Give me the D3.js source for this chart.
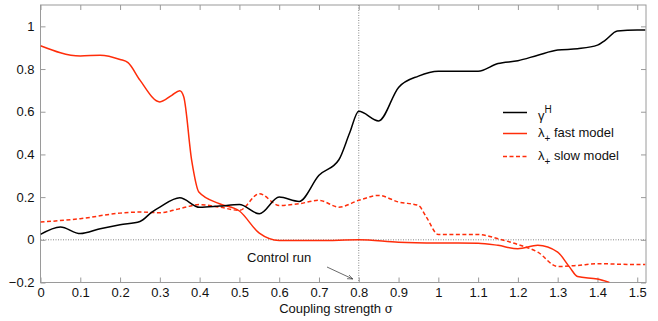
<!DOCTYPE html>
<html>
<head>
<meta charset="utf-8">
<script src="https://cdn.jsdelivr.net/npm/d3@7"></script>
<style>
  body { margin: 0; background: #fff; }
  text { font-family: "Liberation Sans", Arial, sans-serif; fill: #111; }
</style>
</head>
<body>
<svg id="chart" width="658" height="321"></svg>
<script>
// coupling strength values and series
let xGamma = [0, 0.05, 0.1, 0.15, 0.2, 0.25, 0.28, 0.3, 0.35, 0.4, 0.45, 0.5, 0.55, 0.6, 0.65, 0.7, 0.75, 0.777, 0.8, 0.85, 0.9, 0.95, 1.0, 1.05, 1.1, 1.15, 1.2, 1.25, 1.3, 1.35, 1.4, 1.42, 1.45, 1.5, 1.52];
let gammaH = [0.025, 0.06, 0.029, 0.052, 0.071, 0.086, 0.13, 0.153, 0.197, 0.152, 0.158, 0.165, 0.122, 0.2, 0.18, 0.302, 0.375, 0.5, 0.602, 0.557, 0.714, 0.767, 0.79, 0.79, 0.79, 0.826, 0.839, 0.865, 0.889, 0.895, 0.912, 0.936, 0.978, 0.983, 0.983];

let xFast = [0, 0.1, 0.15, 0.2, 0.22, 0.25, 0.3, 0.33, 0.35, 0.36, 0.38, 0.398, 0.45, 0.5, 0.55, 0.6, 0.7, 0.8, 0.9, 1.0, 1.1, 1.15, 1.2, 1.25, 1.3, 1.33, 1.35, 1.4, 1.43];
let lambdaFast = [0.909, 0.861, 0.865, 0.845, 0.83, 0.748, 0.646, 0.677, 0.698, 0.67, 0.372, 0.224, 0.169, 0.135, 0.031, -0.003, -0.003, 0.0, -0.011, -0.015, -0.016, -0.026, -0.042, -0.026, -0.058, -0.128, -0.172, -0.184, -0.2];

let xSlow = [0, 0.1, 0.2, 0.25, 0.3, 0.35, 0.4, 0.45, 0.5, 0.55, 0.6, 0.65, 0.7, 0.75, 0.8, 0.85, 0.9, 0.95, 0.97, 1.0, 1.1, 1.15, 1.2, 1.25, 1.3, 1.35, 1.4, 1.5, 1.52];
let lambdaSlow = [0.083, 0.099, 0.125, 0.13, 0.127, 0.146, 0.165, 0.153, 0.138, 0.216, 0.161, 0.169, 0.185, 0.153, 0.185, 0.208, 0.177, 0.161, 0.106, 0.025, 0.025, 0.005, -0.022, -0.058, -0.125, -0.12, -0.112, -0.116, -0.116];

let xTicks = [0, 0.1, 0.2, 0.3, 0.4, 0.5, 0.6, 0.7, 0.8, 0.9, 1, 1.1, 1.2, 1.3, 1.4, 1.5];
let yTicks = [-0.2, 0, 0.2, 0.4, 0.6, 0.8, 1];
let controlRun = 0.8;

let svg = d3.select("#chart");
let mLeft = 40.5, mRight = 646, mTop = 5, mBottom = 282.5;
let red = "#ff2d0a";

let x = d3.scaleLinear().domain([0, 1.522]).range([mLeft, mRight]);
let y = d3.scaleLinear().domain([-0.2, 1.1]).range([mBottom, mTop]);

svg.append("defs").append("clipPath").attr("id", "clip")
    .append("rect").attr("x", mLeft).attr("y", mTop)
    .attr("width", mRight - mLeft).attr("height", mBottom - mTop);

// frame
svg.append("rect").attr("x", mLeft).attr("y", mTop)
    .attr("width", mRight - mLeft).attr("height", mBottom - mTop)
    .attr("fill", "none").attr("stroke", "#9a9a9a").attr("stroke-width", 1);

// ticks (inward on all four sides)
let fmt = d => d3.format("")(+d.toFixed(1));
svg.append("g").attr("transform", `translate(0,${mBottom})`)
    .call(d3.axisBottom(x).tickValues(xTicks).tickSizeInner(-5).tickSizeOuter(0).tickPadding(5).tickFormat(fmt))
    .call(g => g.select(".domain").remove());
svg.append("g").attr("transform", `translate(0,${mTop})`)
    .call(d3.axisTop(x).tickValues(xTicks).tickSizeInner(-5).tickSizeOuter(0).tickFormat(""))
    .call(g => g.select(".domain").remove());
svg.append("g").attr("transform", `translate(${mLeft},0)`)
    .call(d3.axisLeft(y).tickValues(yTicks).tickSizeInner(-5).tickSizeOuter(0).tickPadding(6).tickFormat(fmt))
    .call(g => g.select(".domain").remove());
svg.append("g").attr("transform", `translate(${mRight},0)`)
    .call(d3.axisRight(y).tickValues(yTicks).tickSizeInner(-5).tickSizeOuter(0).tickFormat(""))
    .call(g => g.select(".domain").remove());
svg.selectAll(".tick line").attr("stroke", "#9a9a9a");
svg.selectAll(".tick text").attr("font-size", 13).attr("fill", "#111")
    .attr("font-family", "Liberation Sans, Arial, sans-serif");

// reference lines
svg.append("line").attr("x1", mLeft).attr("x2", mRight).attr("y1", y(0)).attr("y2", y(0))
    .attr("stroke", "#888").attr("stroke-dasharray", "1,1.5");
svg.append("line").attr("x1", x(controlRun)).attr("x2", x(controlRun)).attr("y1", mTop).attr("y2", mBottom)
    .attr("stroke", "#888").attr("stroke-dasharray", "1,1.5");

// curves
let plot = svg.append("g").attr("clip-path", "url(#clip)");
let line = d3.line().x(d => x(d[0])).y(d => y(d[1])).curve(d3.curveMonotoneX);

plot.append("path").datum(d3.zip(xSlow, lambdaSlow)).attr("d", line)
    .attr("fill", "none").attr("stroke", red).attr("stroke-width", 1.5).attr("stroke-dasharray", "4,2.5");
plot.append("path").datum(d3.zip(xFast, lambdaFast)).attr("d", line)
    .attr("fill", "none").attr("stroke", red).attr("stroke-width", 1.5);
plot.append("path").datum(d3.zip(xGamma, gammaH)).attr("d", line)
    .attr("fill", "none").attr("stroke", "#000").attr("stroke-width", 1.5);

// legend
let leg = svg.append("g");
let legY = [112.5, 133.5, 156.5];
let styles = [["#000", null], [red, null], [red, "4,2.5"]];
legY.forEach((ly, i) => {
    leg.append("line").attr("x1", 503).attr("x2", 527).attr("y1", ly).attr("y2", ly)
        .attr("stroke", styles[i][0]).attr("stroke-width", 1.5)
        .attr("stroke-dasharray", styles[i][1]);
});
let t0 = leg.append("text").attr("x", 538).attr("y", 120).attr("font-size", 13);
t0.append("tspan").text("γ");
t0.append("tspan").attr("dy", -7).attr("font-size", 10).text("H");
let t1 = leg.append("text").attr("x", 538).attr("y", 137).attr("font-size", 13);
t1.append("tspan").text("λ");
t1.append("tspan").attr("dy", 5).attr("font-size", 10).text("+");
t1.append("tspan").attr("dy", -5).text(" fast model");
let t2 = leg.append("text").attr("x", 538).attr("y", 160).attr("font-size", 13);
t2.append("tspan").text("λ");
t2.append("tspan").attr("dy", 5).attr("font-size", 10).text("+");
t2.append("tspan").attr("dy", -5).text(" slow model");

// control run annotation
svg.append("defs").append("marker").attr("id", "arr").attr("viewBox", "0 0 10 10")
    .attr("refX", 10).attr("refY", 5).attr("markerWidth", 7).attr("markerHeight", 7)
    .attr("orient", "auto").append("path").attr("d", "M0,1 L10,5 L0,9").attr("fill", "none").attr("stroke", "#222");
svg.append("line").attr("x1", 327).attr("y1", 267).attr("x2", x(controlRun) - 6).attr("y2", 279)
    .attr("stroke", "#444").attr("stroke-width", 0.8).attr("marker-end", "url(#arr)");
svg.append("text").attr("x", 247).attr("y", 262).attr("font-size", 13).text("Control run");

// x axis title
let xt = svg.append("text").attr("x", 336).attr("y", 313).attr("font-size", 13).attr("text-anchor", "middle");
xt.append("tspan").text("Coupling strength ");
xt.append("tspan").attr("font-family", "DejaVu Serif, serif").attr("font-size", 12).text("σ");
</script>
</body>
</html>
